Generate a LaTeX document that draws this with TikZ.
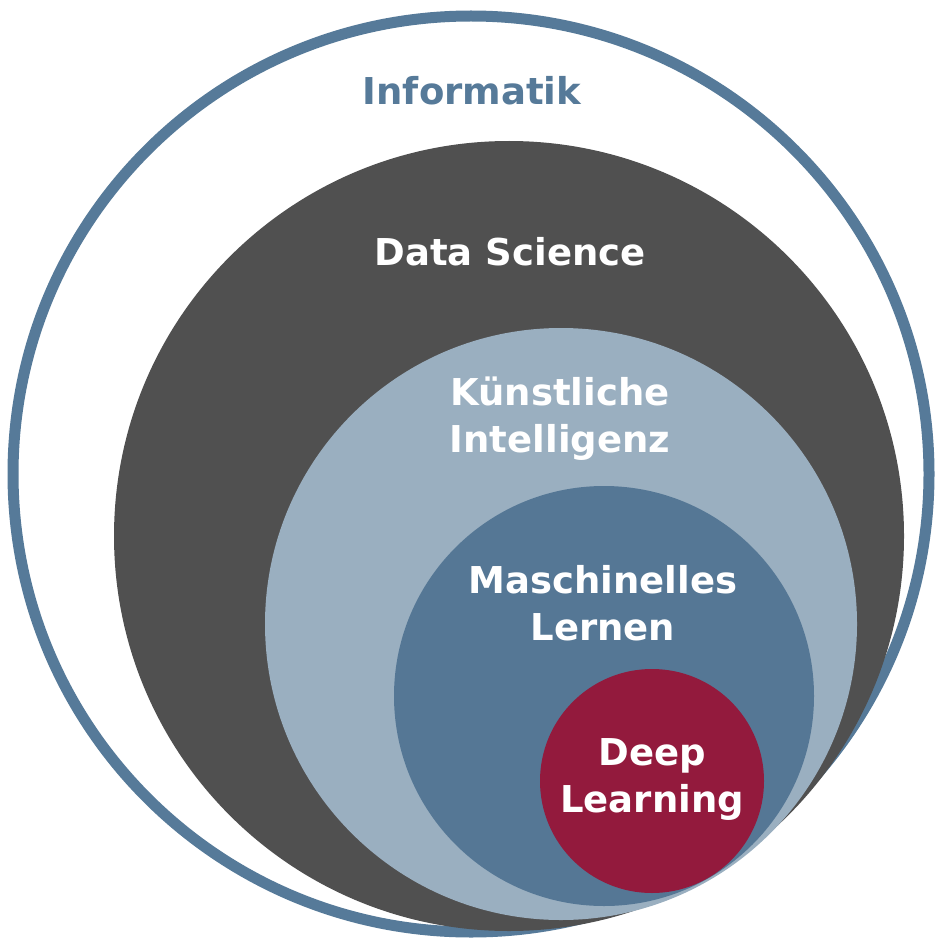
\documentclass[tikz,border=0pt]{standalone}
\usepackage{fontspec}
\setmainfont{DejaVu Sans}
\definecolor{ringblue}{RGB}{86,122,153}
\definecolor{datagray}{RGB}{80,80,80}
\definecolor{kiblue}{RGB}{154,175,192}
\definecolor{mlblue}{RGB}{85,119,149}
\definecolor{deepred}{RGB}{147,26,61}
\tikzset{
	fieldlabel/.style={anchor=base, inner sep=0pt, align=center, text=white,
		font=\fontsize{37}{47}\selectfont\bfseries}
}

\begin{document}
\begin{tikzpicture}[x=1pt, y=-1pt]
		%%%%% START %%%%%
		\useasboundingbox (0, 0) rectangle (934, 941);
		
		\draw[line width=11pt, color=ringblue, fill=white] (471, 474) circle (458);
		\draw[fill=datagray, draw=none] (509, 536) circle (395);
		\draw[fill=kiblue, draw=none] (561, 624) circle (296);
		\draw[fill=mlblue, draw=none] (604, 696) circle (210);
		\draw[fill=deepred, draw=none] (652, 781) circle (112);
		
		\node[fieldlabel, text=ringblue] (informatik) at (472, 105) {Informatik};
		\node[fieldlabel] (datascience) at (510, 265) {Data Science};
		\node[fieldlabel] (ki) at (560, 452) {Künstliche\\Intelligenz};
		\node[fieldlabel] (ml) at (603, 640) {Maschinelles\\Lernen};
		\node[fieldlabel] (deep) at (652, 812) {Deep\\Learning};
		
		%%%%% END %%%%%
	\end{tikzpicture}
\end{document}
